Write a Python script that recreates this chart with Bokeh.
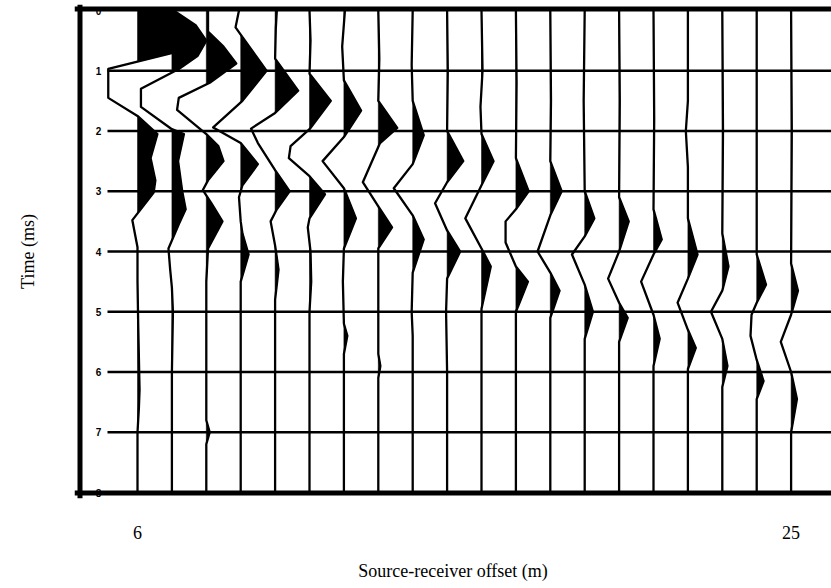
import math
from bokeh.plotting import figure
from bokeh.models import Range1d, FixedTicker, Span
from bokeh.embed import file_html
from bokeh.resources import INLINE
from bokeh.core.properties import value

# ---------------- data ----------------
offsets = list(range(6, 26))            # source-receiver offset (m)
offset_ticks = [6, 25]                  # labelled offsets
time_ticks = [0, 1, 2, 3, 4, 5, 6, 7, 8]  # ms, printed inside the frame
grid_times = [1, 2, 3, 4, 5, 6, 7]      # horizontal time lines

# each trace: times (ms) and wiggle amplitude (in trace spacings)
t06 = [0, 0.7, 0.97, 1.45, 1.75, 2.05, 2.45, 2.82, 3.02, 3.48, 3.93, 4.5, 5.2, 6.3, 6.6, 7.0, 8.0]
a06 = [1.05, 1.05, -0.85, -0.85, 0.0, 0.58, 0.38, 0.52, 0.47, -0.15, 0.0, 0.0, 0.02, 0.06, 0.04, 0.0, 0.0]
t07 = [0, 0.25, 0.5, 0.75, 0.97, 1.3, 1.6, 1.97, 2.05, 2.5, 3.0, 3.3, 3.55, 3.95, 4.3, 4.6, 5.0, 6.0, 8.0]
a07 = [0.05, 0.7, 1.0, 0.75, 0.2, -0.9, -0.9, 0.0, 0.35, 0.18, 0.3, 0.4, 0.2, -0.1, -0.05, 0.0, 0.03, 0.0, 0.0]
t08 = [0, 0.35, 0.6, 0.88, 1.2, 1.45, 1.65, 2.05, 2.25, 2.5, 2.82, 2.98, 3.2, 3.5, 3.95, 4.5, 6.8, 7.0, 7.2, 8.0]
a08 = [0.05, 0.05, 0.5, 0.87, 0.1, -0.8, -0.85, 0.0, 0.35, 0.5, 0.05, -0.1, 0.15, 0.47, 0.05, 0.0, 0.0, 0.1, 0.0, 0.0]
t09 = [0, 0.28, 0.4, 1.0, 1.5, 1.94, 2.2, 2.55, 2.9, 3.1, 3.5, 3.7, 4.05, 4.5, 5.0, 8.0]
a09 = [-0.05, -0.15, 0.0, 0.75, 0.05, -0.8, 0.0, 0.5, 0.05, -0.05, 0.0, 0.05, 0.23, 0.0, 0.0, 0.0]
t10 = [0, 0.3, 0.8, 1.33, 1.7, 1.96, 2.2, 2.65, 3.0, 3.3, 3.5, 3.9, 4.3, 4.8, 5.5, 8.0]
a10 = [0.05, 0.02, 0.0, 0.67, 0.0, -0.7, -0.5, 0.0, 0.42, 0.05, -0.13, 0.0, 0.1, 0.0, 0.0, 0.0]
t11 = [0, 0.5, 1.05, 1.5, 1.97, 2.25, 2.45, 2.75, 3.05, 3.45, 3.6, 4.0, 4.5, 5.0, 8.0]
a11 = [0.0, 0.03, 0.0, 0.62, 0.0, -0.55, -0.6, 0.0, 0.45, 0.0, -0.05, 0.03, 0.05, 0.0, 0.0]
t12 = [0, 0.6, 1.16, 1.66, 2.1, 2.5, 2.95, 3.45, 3.95, 4.5, 5.2, 5.4, 5.7, 6.5, 8.0]
a12 = [0.03, -0.05, 0.0, 0.5, 0.0, -0.62, 0.0, 0.35, 0.0, -0.03, 0.0, 0.1, 0.0, 0.0, 0.0]
t13 = [0, 0.8, 1.5, 1.95, 2.2, 2.85, 3.25, 3.6, 3.95, 4.5, 5.7, 5.9, 6.1, 8.0]
a13 = [0.0, 0.03, 0.0, 0.55, 0.05, -0.45, 0.0, 0.4, 0.0, 0.0, 0.0, 0.06, 0.0, 0.0]
t14 = [0, 0.9, 1.5, 2.07, 2.55, 2.95, 3.4, 3.8, 4.35, 5.0, 5.4, 6.0, 8.0]
a14 = [0.0, -0.03, 0.0, 0.32, 0.0, -0.55, 0.0, 0.32, 0.0, -0.03, 0.0, 0.0, 0.0]
t15 = [0, 1.0, 2.0, 2.5, 2.85, 3.2, 3.65, 4.0, 4.45, 5.0, 6.0, 8.0]
a15 = [0.0, 0.02, 0.0, 0.47, 0.0, -0.35, 0.0, 0.38, 0.0, -0.03, 0.0, 0.0]
t16 = [0, 1.0, 1.6, 2.05, 2.5, 2.9, 3.45, 3.95, 4.25, 4.95, 5.5, 8.0]
a16 = [0.0, 0.03, -0.03, 0.0, 0.35, 0.0, -0.47, 0.0, 0.27, 0.0, 0.0, 0.0]
t17 = [0, 1.2, 2.45, 3.0, 3.3, 3.5, 3.85, 4.25, 4.5, 5.0, 5.5, 8.0]
a17 = [0.0, 0.02, 0.0, 0.37, 0.0, -0.3, -0.3, 0.0, 0.35, 0.0, 0.0, 0.0]
t18 = [0, 1.5, 2.5, 3.0, 3.4, 4.0, 4.35, 4.65, 5.1, 5.6, 8.0]
a18 = [0.0, 0.02, 0.0, 0.33, 0.0, -0.37, 0.0, 0.27, 0.0, 0.0, 0.0]
t19 = [0, 1.5, 3.0, 3.45, 3.75, 4.05, 4.55, 5.0, 5.45, 6.0, 8.0]
a19 = [0.0, -0.03, 0.0, 0.28, 0.0, -0.37, 0.0, 0.24, 0.0, 0.0, 0.0]
t20 = [0, 1.5, 3.1, 3.5, 4.0, 4.45, 4.85, 5.1, 5.5, 6.0, 8.0]
a20 = [0.0, 0.02, 0.0, 0.28, 0.0, -0.32, 0.0, 0.25, 0.0, 0.0, 0.0]
t21 = [0, 1.8, 3.3, 3.8, 4.05, 4.5, 5.05, 5.45, 5.9, 6.5, 8.0]
a21 = [0.0, 0.02, 0.0, 0.24, 0.0, -0.36, 0.0, 0.18, 0.0, 0.0, 0.0]
t22 = [0, 1.5, 2.0, 2.6, 3.45, 4.05, 4.45, 4.85, 5.3, 5.6, 5.95, 6.5, 8.0]
a22 = [0.0, 0.0, -0.06, 0.0, 0.0, 0.28, 0.0, -0.3, 0.0, 0.23, 0.0, 0.0, 0.0]
t23 = [0, 2.0, 3.7, 4.25, 4.65, 5.0, 5.45, 5.9, 6.25, 7.0, 8.0]
a23 = [0.0, 0.02, 0.0, 0.18, 0.0, -0.33, 0.0, 0.15, 0.0, 0.0, 0.0]
t24 = [0, 2.0, 4.05, 4.55, 4.85, 5.05, 5.4, 5.8, 6.15, 6.45, 7.0, 8.0]
a24 = [0.0, 0.0, 0.0, 0.27, 0.0, -0.15, -0.18, 0.0, 0.2, 0.0, 0.0, 0.0]
t25 = [0, 2.0, 4.2, 4.65, 5.05, 5.5, 6.0, 6.45, 7.0, 7.5, 8.0]
a25 = [0.0, 0.02, 0.0, 0.2, 0.0, -0.3, 0.0, 0.17, 0.0, 0.0, 0.0]

trace_times = [t06, t07, t08, t09, t10, t11, t12, t13, t14, t15,
               t16, t17, t18, t19, t20, t21, t22, t23, t24, t25]
trace_amps = [a06, a07, a08, a09, a10, a11, a12, a13, a14, a15,
              a16, a17, a18, a19, a20, a21, a22, a23, a24, a25]

# ---------------- layout (pixel positions of the picture) ----------------
W, H = 831, 588
PX_X = 34.4          # px per metre
PX_Y = 60.25         # px per ms
frame_left_px = 74
frame_top_px = 4
frame_h = 494
frame_w = W - frame_left_px
x0 = 6 + (frame_left_px - 137) / PX_X
x1 = x0 + frame_w / PX_X
y_top = (frame_top_px - 10) / PX_Y
y_bot = y_top + frame_h / PX_Y

p = figure(width=W, height=H, output_backend="svg", toolbar_location=None,
           x_range=Range1d(x0, x1), y_range=Range1d(y_bot, y_top),
           min_border_left=frame_left_px, min_border_right=0,
           min_border_top=frame_top_px, min_border_bottom=H - frame_h - frame_top_px,
           y_axis_location="left")
p.outline_line_color = None
p.grid.visible = False
p.background_fill_color = "white"
p.border_fill_color = "white"

SERIF = "Liberation Serif"

# x axis: only 6 and 25 labelled
xa = p.xaxis[0]
xa.ticker = FixedTicker(ticks=offset_ticks)
xa.axis_line_color = None
xa.major_tick_line_color = None
xa.minor_tick_line_color = None
xa.major_tick_out = 0
xa.major_label_standoff = 27
xa.major_label_text_font = SERIF
xa.major_label_text_font_size = "18px"
xa.major_label_text_color = "black"
xa.axis_label = "Source-receiver offset (m)"
xa.axis_label_text_font = SERIF
xa.axis_label_text_font_style = "normal"
xa.axis_label_text_font_size = "18px"
xa.axis_label_text_color = "black"
xa.axis_label_standoff = 19

ya = p.yaxis[0]
ya.ticker = FixedTicker(ticks=[])
ya.axis_line_color = None
ya.major_tick_line_color = None
ya.minor_tick_line_color = None
ya.major_label_text_font_size = "0px"
ya.axis_label = "Time (ms)"
ya.axis_label_text_font = SERIF
ya.axis_label_text_font_style = "normal"
ya.axis_label_text_font_size = "18px"
ya.axis_label_text_color = "black"
ya.axis_label_standoff = 37

# horizontal time lines (start a little right of the frame)
line_start = 6 + (107 - 137) / PX_X
p.segment(x0=[line_start] * len(grid_times), y0=grid_times,
          x1=[x1 + 1] * len(grid_times), y1=grid_times,
          line_color="black", line_width=2.6)

# time labels inside the frame
lab_x = 6 + (98 - 137) / PX_X
p.text(x=[lab_x] * len(time_ticks), y=time_ticks, text=[str(t) for t in time_ticks],
       text_font=value("Liberation Sans"), text_font_style="bold",
       text_font_size="10px", text_align="center", text_baseline="middle",
       text_color="black")


def positive_polys(t, a):
    polys = []
    cur = None
    for k in range(len(t)):
        if k > 0:
            a0, a1 = a[k - 1], a[k]
            if (a0 > 0) != (a1 > 0) and a0 != a1:
                tc = t[k - 1] + (t[k] - t[k - 1]) * (0 - a0) / (a1 - a0)
                if cur is None:
                    cur = [(0.0, tc)]
                else:
                    cur.append((0.0, tc))
                    polys.append(cur)
                    cur = None
        if a[k] > 0:
            if cur is None:
                cur = [(0.0, t[k])]
            cur.append((a[k], t[k]))
    if cur is not None:
        cur.append((0.0, t[-1]))
        polys.append(cur)
    return polys


fx, fy = [], []
for off, tt, aa in zip(offsets, trace_times, trace_amps):
    for poly in positive_polys(tt, aa):
        fx.append([off + q[0] for q in poly])
        fy.append([q[1] for q in poly])
p.patches(xs=fx, ys=fy, fill_color="black", line_color="black", line_width=0.5)

for off, tt, aa in zip(offsets, trace_times, trace_amps):
    p.line(x=[off + v for v in aa], y=tt, line_color="black", line_width=2.3,
           line_join="round")

# frame borders (top, left, bottom)
p.add_layout(Span(location=(8.5 - 10) / PX_Y, dimension="width", line_color="black", line_width=5))
p.add_layout(Span(location=6 + (79.5 - 137) / PX_X, dimension="height", line_color="black", line_width=5))
p.add_layout(Span(location=(492.5 - 10) / PX_Y, dimension="width", line_color="black", line_width=5))

open("out.html", "w").write(file_html(p, INLINE))
